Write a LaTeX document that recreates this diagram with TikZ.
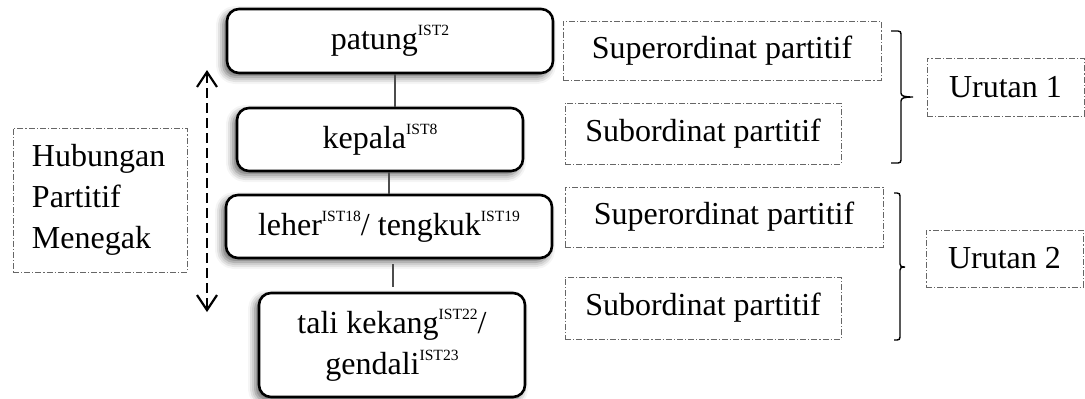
\documentclass[tikz,border=0pt]{standalone}
\usepackage{fontspec}
\setmainfont{Liberation Serif}
\usetikzlibrary{arrows.meta,shadows.blur}
\newcommand\ist[1]{\raisebox{7pt}{\fontsize{7.8}{8}\selectfont IST#1}}
\tikzset{
  txt/.style={font=\fontsize{16}{20.5}\selectfont},
  rbox/.style={txt, draw=black, line width=1.3pt, rounded corners=6pt, fill=white,
    align=center, inner sep=0pt,
    blur shadow={shadow xshift=-2pt, shadow yshift=-2pt, shadow blur radius=3.5pt, shadow opacity=60}},
  dbox/.style={txt, draw=black!60, line width=0.5pt,
    dash pattern=on 3pt off 1pt on 0.6pt off 1pt, inner sep=0pt, align=center},
  link/.style={draw=black!70, line width=0.6pt},
  brc/.style={draw=black, line width=0.7pt},
  dblarrow/.style={line width=1.1pt, dash pattern=on 5pt off 2.5pt,
    {Straight Barb[length=7.5pt,width=10pt,line width=1.1pt]}-{Straight Barb[length=7.5pt,width=10pt,line width=1.1pt]}}
}
\begin{document}
\begin{tikzpicture}[x=0.5pt,y=-0.5pt]
\useasboundingbox (0,0) rectangle (1085,398);
% main hierarchy
\node[rbox, minimum width=163pt, minimum height=32pt] (patung) at (390,41) {patung\ist{2}};
\node[rbox, minimum width=143pt, minimum height=31.5pt] (kepala) at (380,139.5) {kepala\ist{8}};
\node[rbox, minimum width=163pt, minimum height=31.5pt] (leher) at (389,226.5) {leher\ist{18}/ tengkuk\ist{19}};
\node[rbox, minimum width=133pt, minimum height=52pt] (tali) at (392,345) {tali kekang\ist{22}/\\gendali\ist{23}};
\coordinate (l1) at (395,0);
\coordinate (l2) at (389,0);
\coordinate (l3) at (393,0);
\draw[link] (patung.south -| l1) -- (kepala.north -| l1);
\draw[link] (kepala.south -| l2) -- (leher.north -| l2);
\draw[link, shorten <=2.5pt, shorten >=2.5pt] (leher.south -| l3) -- (tali.north -| l3);
% left label and arrow
\node[dbox, minimum width=87pt, minimum height=72pt, text width=68pt, inner xsep=9.5pt, align=left] (hub) at (100,200) {Hubungan\\Partitif\\Menegak};
\coordinate (a1) at (207,70);
\coordinate (a2) at (207,312);
\draw[dblarrow] (a1) -- (a2);
% right labels
\node[dbox, minimum width=159pt, minimum height=29.5pt] (sup1) at (722,50.5) {Superordinat partitif};
\node[dbox, minimum width=138pt, minimum height=30.5pt] (sub1) at (703,133.5) {Subordinat partitif};
\node[dbox, minimum width=159pt, minimum height=30pt] (sup2) at (724,217) {Superordinat partitif};
\node[dbox, minimum width=138pt, minimum height=31pt] (sub2) at (703,308) {Subordinat partitif};
\node[dbox, minimum width=78.5pt, minimum height=29pt] (ur1) at (1005.5,87) {Urutan 1};
\node[dbox, minimum width=78.5pt, minimum height=28.5pt] (ur2) at (1004.5,258.5) {Urutan 2};
% braces
\draw[brc] (891,31) -- (898,31) .. controls (900,31) and (901,32) .. (901,34)
  -- (901,93) .. controls (901,96) and (904,97) .. (913,97)
  .. controls (904,97) and (901,98) .. (901,101)
  -- (901,160) .. controls (901,162) and (900,163) .. (898,163) -- (891,163);
\draw[brc] (894,193) -- (897,193) .. controls (899,193) and (900,194) .. (900,196)
  -- (900,264) .. controls (900,266) and (901,267) .. (905,267)
  .. controls (901,267) and (900,268) .. (900,270)
  -- (900,337) .. controls (900,339) and (899,340) .. (897,340) -- (894,340);
\end{tikzpicture}
\end{document}
